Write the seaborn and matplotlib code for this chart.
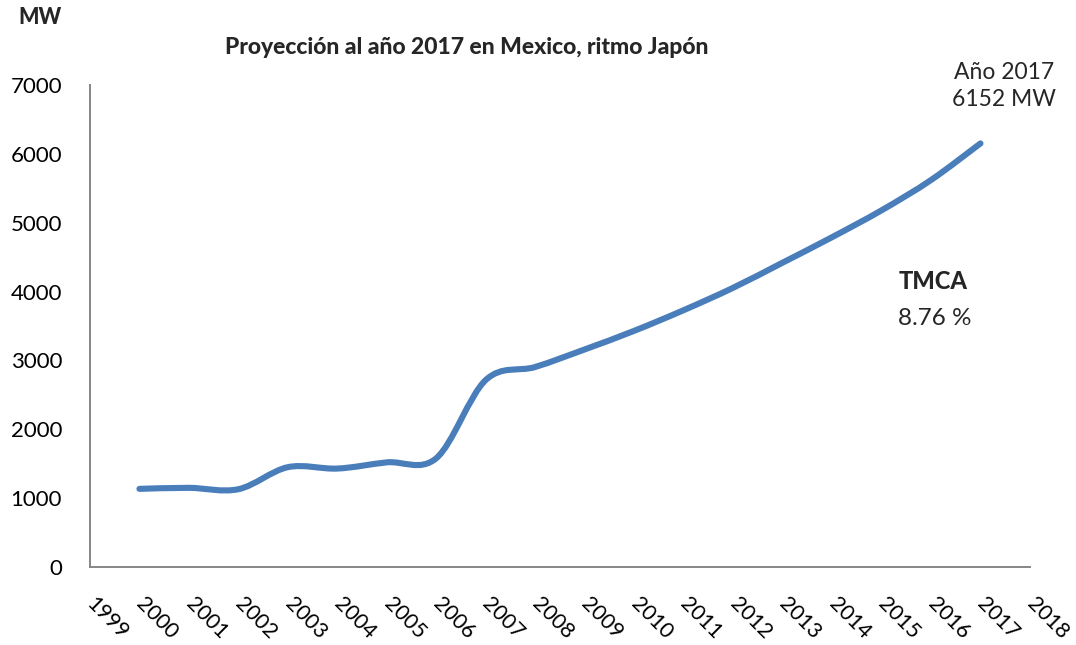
import numpy as np
import matplotlib
matplotlib.use("Agg")
import matplotlib.pyplot as plt
from matplotlib.path import Path
from matplotlib.patches import PathPatch
import seaborn as sns

# Installed capacity (MW) per year, projected at the Japanese growth pace
years = [2000, 2001, 2002, 2003, 2004, 2005, 2006, 2007, 2008,
         2009, 2010, 2011, 2012, 2013, 2014, 2015, 2016, 2017]
mw = [1135, 1150, 1130, 1450, 1430, 1520, 1580, 2716, 2905,
      3160, 3430, 3730, 4055, 4420, 4790, 5180, 5620, 6152]

x_ticks = list(range(1999, 2019))
y_ticks = [0, 1000, 2000, 3000, 4000, 5000, 6000, 7000]

title = "Proyección al año 2017 en Mexico, ritmo Japón"
y_unit = "MW"
end_note = "Año 2017\n6152 MW"
rate_label = "TMCA"
rate_value = "8.76 %"

LINE_COLOR = "#4A7EBB"
AXIS_COLOR = "#868686"

sns.set_theme(style="white")
plt.rcParams["font.family"] = ["Lato", "DejaVu Sans"]

fig = plt.figure(figsize=(10.76, 6.45), dpi=100)
ax = fig.add_axes([0.0836, 0.1209, 0.8736, 0.7473])


def smooth_path(xs, ys):
    """Cubic Bezier path through every point (Catmull-Rom style tangents)."""
    pts = np.column_stack([xs, ys]).astype(float)
    n = len(pts)
    verts = [pts[0]]
    codes = [Path.MOVETO]
    for i in range(n - 1):
        p_prev = pts[i - 1] if i > 0 else pts[i]
        p0, p1 = pts[i], pts[i + 1]
        p_next = pts[i + 2] if i + 2 < n else pts[i + 1]
        c1 = p0 + (p1 - p_prev) / 6.0
        c2 = p1 - (p_next - p0) / 6.0
        verts += [c1, c2, p1]
        codes += [Path.CURVE4] * 3
    return Path(verts, codes)


curve = PathPatch(smooth_path(years, mw), transform=ax.transData,
                  fill=False, edgecolor=LINE_COLOR, linewidth=4.4,
                  capstyle="round", joinstyle="round", zorder=3)
ax.add_patch(curve)

ax.set_xlim(x_ticks[0], x_ticks[-1])
ax.set_ylim(y_ticks[0], y_ticks[-1])
ax.set_xticks(x_ticks)
ax.set_xticklabels([str(y) for y in x_ticks])
ax.set_yticks(y_ticks)
ax.set_yticklabels([str(v) for v in y_ticks])

sns.despine(ax=ax, top=True, right=True)
for side in ("left", "bottom"):
    ax.spines[side].set_color(AXIS_COLOR)
    ax.spines[side].set_linewidth(1.4)
ax.grid(False)

ax.tick_params(axis="y", length=0, pad=20, labelsize=16, labelcolor="black")
ax.tick_params(axis="x", length=0, pad=24, labelsize=15.5, labelcolor="black")
plt.setp(ax.get_xticklabels(), rotation=-45, ha="left", va="center",
         rotation_mode="anchor")

fig.text(467 / 1076, 1 - 48 / 645, title, ha="center", va="center",
         fontsize=16.5, fontweight="black")
fig.text(40 / 1076, 1 - 18 / 645, y_unit, ha="center", va="center",
         fontsize=15.5, fontweight="black")
fig.text(1004 / 1076, 1 - 86 / 645, end_note, ha="center", va="center",
         fontsize=16.5, linespacing=1.35)
fig.text(899 / 1076, 1 - 281 / 645, rate_label, ha="left", va="center",
         fontsize=17, fontweight="black")
fig.text(898 / 1076, 1 - 318 / 645, rate_value, ha="left", va="center",
         fontsize=17.5)

fig.savefig("out.png", dpi=100, facecolor="white")
